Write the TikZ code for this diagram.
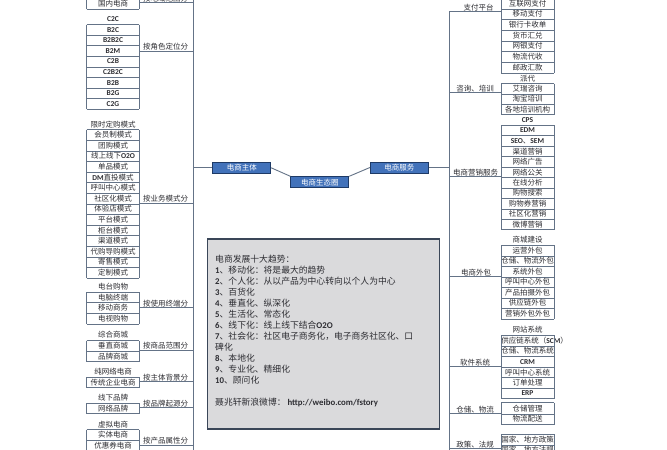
\documentclass[tikz,border=0pt]{standalone}
\usepackage{fontspec}
\setmainfont{Noto Sans CJK SC}
\newfontfamily\calb{Carlito}
\usepackage{xcolor}
\usepackage{tikz}

\definecolor{mmline}{RGB}{100,115,135}
\definecolor{mmtext}{RGB}{45,45,50}
\definecolor{hubfill}{RGB}{66,114,186}
\definecolor{hubedge}{RGB}{30,58,102}
\definecolor{trendfill}{RGB}{218,218,220}
\definecolor{trendedge}{RGB}{58,70,88}

\newcommand{\latb}[1]{{\calb\bfseries #1}}
% #1 name, #2 x, #3 first y, #4 row step, #5 items
\newcommand{\leafgroup}[5]{%
  \foreach \lbl [count=\i] in {#5} {
    \node[leaf, minimum height=#4pt] (#1-\i) at (#2, {#3+(\i-1)*#4}) {\lbl};
    \draw[boxline] (#1-\i.south west) -- (#1-\i.south east);
    \xdef\lastleaf{\i}
  }
  \draw[boxline] (#1-1.south west) -- (#1-\lastleaf.south west);
  \draw[boxline] (#1-1.south east) -- (#1-\lastleaf.south east);
}

\begin{document}
\begin{tikzpicture}[x=1pt, y=-1pt,
    leaf/.style={text width=52.5pt, align=center, inner sep=0pt, text=mmtext,
      font=\fontsize{7.5}{8}\selectfont},
    branch/.style={inner xsep=0pt, inner ysep=0.5pt, text=mmtext,
      font=\fontsize{7.5}{8}\selectfont},
    boxline/.style={draw=mmline, line width=0.7pt},
    trunk/.style={draw=mmline, line width=0.9pt},
    hub/.style={draw=hubedge, fill=hubfill, text=white, line width=0.8pt,
      minimum width=58pt, minimum height=11pt, inner sep=0pt,
      font=\fontsize{7.5}{8}\selectfont}]
    \useasboundingbox (0,0) rectangle (667,450);
    \clip (0,0) rectangle (667,450);
    \fill[white] (0,0) rectangle (667,450);

    \coordinate (trunkLtop) at (193,-5);
    \coordinate (trunkLbot) at (193,455);
    \coordinate (trunkRtop) at (449,12);
    \coordinate (trunkRbot) at (449,455);
    \draw[trunk] (trunkLtop) -- (trunkLbot);
    \draw[trunk] (trunkRtop) -- (trunkRbot);

    % centre
    \node[hub] (zhuti) at (241.8,167.8) {电商主体};
    \node[hub] (shengtai) at (319.8,182.2) {电商生态圈};
    \node[hub] (fuwu) at (399.3,167.5) {电商服务};
    \draw[trunk] (zhuti.west) -- (trunkLtop |- zhuti.west);
    \draw[trunk] (fuwu.east) -- (trunkRtop |- fuwu.east);
    \draw[trunk] (zhuti.east) -- (shengtai.north west);
    \draw[trunk] (shengtai.north east) -- (fuwu.west);

    % left branches
    \leafgroup{diyu}{113}{3.5}{10.6}{国内电商}
    \draw[boxline] (diyu-1.south west) -- (diyu-1.south west |- trunkLtop);
    \draw[boxline] (diyu-1.south east) -- (diyu-1.south east |- trunkLtop);
    \leafgroup{jiaose}{113}{19}{10.6}{\latb{C2C},\latb{B2C},\latb{B2B2C},\latb{B2M},\latb{C2B},\latb{C2B2C},\latb{B2B},\latb{B2G},\latb{C2G}}
    \leafgroup{yewu}{113}{124.3}{10.6}{限时定购模式,会员制模式,团购模式,线上线下\latb{O2O},单品模式,\latb{DM}直投模式,呼叫中心模式,社区化模式,体验店模式,平台模式,柜台模式,渠道模式,代购导购模式,寄售模式,定制模式}
    \leafgroup{zhongduan}{113}{286.7}{10.6}{电台购物,电脑终端,移动商务,电视购物}
    \leafgroup{fanwei}{113}{335}{10.6}{综合商城,垂直商城,品牌商城}
    \leafgroup{beijing}{113}{371.7}{10.6}{纯网络电商,传统企业电商}
    \leafgroup{qiyuan}{113}{397.7}{10.6}{线下品牌,网络品牌}
    \leafgroup{shuxing}{113}{424.3}{10.6}{虚拟电商,实体电商,优惠券电商}

    \node[branch] (diyuLab) at (165.5,-1.5) {按地域范围分};
    \node[branch] (jiaoseLab) at (165.5,47) {按角色定位分};
    \node[branch] (yewuLab) at (165.5,198.7) {按业务模式分};
    \node[branch] (zhongduanLab) at (165.5,303.3) {按使用终端分};
    \node[branch] (fanweiLab) at (165.5,346) {按商品范围分};
    \node[branch] (beijingLab) at (165.5,377.3) {按主体背景分};
    \node[branch] (qiyuanLab) at (165.5,403.3) {按品牌起源分};
    \node[branch] (shuxingLab) at (165.5,440.7) {按产品属性分};
    \foreach \g in {diyu,jiaose,yewu,zhongduan,fanwei,beijing,qiyuan,shuxing}
      \draw[boxline] (\g-1.east |- \g Lab.south) -- (trunkLtop |- \g Lab.south);

    % right branches
    \leafgroup{zhifu}{527.5}{3.3}{10.7}{互联网支付,移动支付,银行卡收单,货币汇兑,网银支付,物流代收,邮政汇款}
    \draw[boxline] (zhifu-1.south west) -- (zhifu-1.south west |- trunkLtop);
    \draw[boxline] (zhifu-1.south east) -- (zhifu-1.south east |- trunkLtop);
    \leafgroup{zixun}{527.5}{78.3}{10.3}{派代,艾瑞咨询,淘宝培训,各地培训机构}
    \leafgroup{yingxiao}{527.5}{120}{10.43}{\latb{CPS},\latb{EDM},\latb{SEO}、\latb{SEM},渠道营销,网络广告,网络公关,在线分析,购物搜索,购物券营销,社区化营销,微博营销}
    \leafgroup{waibao}{527.5}{240}{10.5}{商城建设,运营外包,仓储、物流外包,系统外包,呼叫中心外包,产品拍摄外包,供应链外包,营销外包外包}
    \leafgroup{ruanjian}{527.5}{330}{10.55}{网站系统,供应链系统（\latb{SCM}）,仓储、物流系统,\latb{CRM},呼叫中心系统,订单处理,\latb{ERP}}
    \leafgroup{wuliu}{527.5}{408.3}{10.7}{仓储管理,物流配送}
    \leafgroup{zhengce}{527.5}{439.5}{10.5}{国家、地方政策,国家、地方法规}
    \foreach \g in {wuliu,zhengce} {
      \draw[boxline] (\g-1.north west) -- (\g-1.north east);
      \draw[boxline] (\g-1.north west) -- (\g-1.south west);
      \draw[boxline] (\g-1.north east) -- (\g-1.south east);
    }

    \node[branch] (zhifuLab) at (478.5,7.3) {支付平台};
    \node[branch] (zixunLab) at (475,88.3) {咨询、培训};
    \node[branch] (yingxiaoLab) at (475.5,172.3) {电商营销服务};
    \node[branch] (waibaoLab) at (476,272.3) {电商外包};
    \node[branch] (ruanjianLab) at (475,362.3) {软件系统};
    \node[branch] (wuliuLab) at (475,409.3) {仓储、物流};
    \node[branch] (zhengceLab) at (475,444.5) {政策、法规};
    \foreach \g in {zhifu,zixun,yingxiao,waibao,ruanjian,wuliu,zhengce}
      \draw[boxline] (trunkRtop |- \g Lab.south) -- (\g-1.west |- \g Lab.south);

    % trends box
    \node[draw=trendedge, fill=trendfill, line width=1.6pt, minimum width=232pt,
      minimum height=190pt, inner sep=0pt] (trend) at (323.3,334.2) {};
    \node[anchor=north west, align=left, inner sep=0pt, text=mmtext,
      font=\fontsize{8.8}{11}\selectfont] (trendtxt) at (215,255) {%
      电商发展十大趋势：\\
      \latb{1}、移动化：将是最大的趋势\\
      \latb{2}、个人化：从以产品为中心转向以个人为中心\\
      \latb{3}、百货化\\
      \latb{4}、垂直化、纵深化\\
      \latb{5}、生活化、常态化\\
      \latb{6}、线下化：线上线下结合\latb{O2O}\\
      \latb{7}、社会化：社区电子商务化，电子商务社区化、口\\
      碑化\\
      \latb{8}、本地化\\
      \latb{9}、专业化、精细化\\
      \latb{10}、顾问化\\[11pt]
      聂兆轩新浪微博：\ \latb{http://weibo.com/fstory}};
\end{tikzpicture}
\end{document}
